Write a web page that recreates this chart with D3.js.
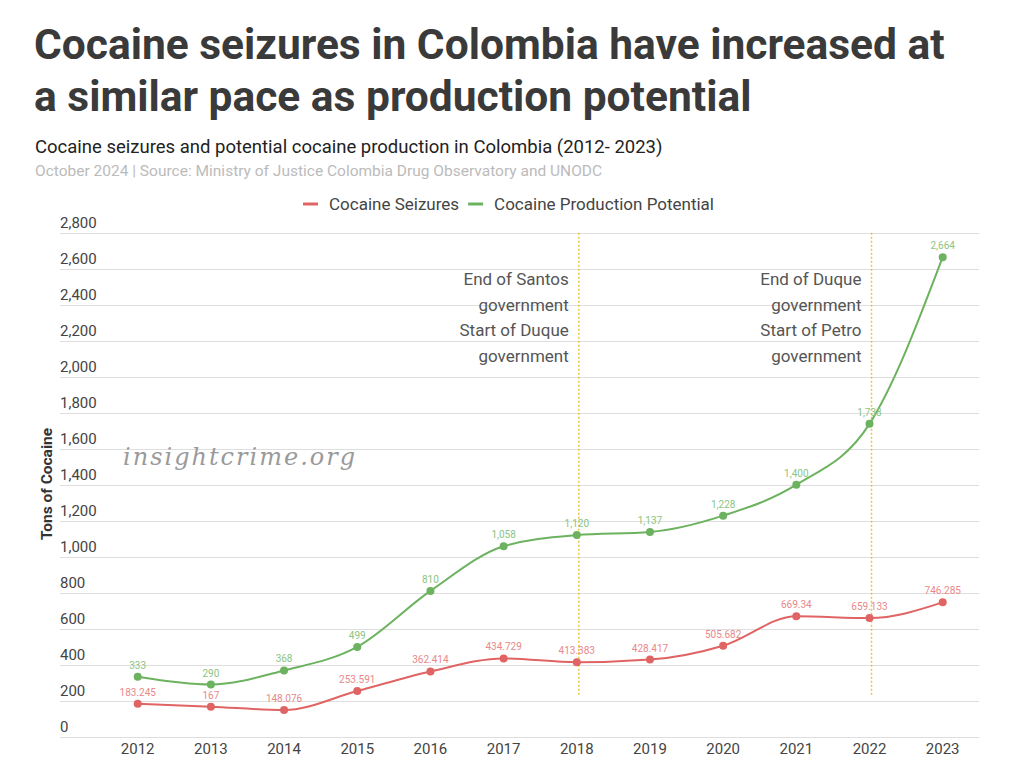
<!DOCTYPE html>
<html>
<head>
<meta charset="utf-8">
<script src="https://cdn.jsdelivr.net/npm/d3@7"></script>
<style>
  body { margin: 0; background: #fff; font-family: Roboto, "Noto Sans", sans-serif; }
  svg text { font-family: Roboto, "Noto Sans", sans-serif; }
  .grid line { stroke: #dedede; stroke-width: 1; }
  .tick-label { fill: #444; font-size: 15px; }
  .val { font-size: 10px; text-anchor: middle; }
  .note { fill: #555; font-size: 17px; text-anchor: end; }
</style>
</head>
<body>
<svg width="1024" height="778"></svg>
<script>
var years = [2012, 2013, 2014, 2015, 2016, 2017, 2018, 2019, 2020, 2021, 2022, 2023];
var seizures = [183.245, 167, 148.076, 253.591, 362.414, 434.729, 413.383, 428.417, 505.682, 669.34, 659.133, 746.285];
var production = [333, 290, 368, 499, 810, 1058, 1120, 1137, 1228, 1400, 1738, 2664];
var yTicks = [0, 200, 400, 600, 800, 1000, 1200, 1400, 1600, 1800, 2000, 2200, 2400, 2600, 2800];

var notes = [
  { year: 2018, lines: ["End of Santos", "government", "Start of Duque", "government"] },
  { year: 2022, lines: ["End of Duque", "government", "Start of Petro", "government"] }
];

var series = [
  { name: "Cocaine Seizures", values: seizures, line: "#e06464", label: "#e8888a", fmt: function(d) { return String(d); } },
  { name: "Cocaine Production Potential", values: production, line: "#6cb25f", label: "#8cc483", fmt: d3.format(",") }
];

var svg = d3.select("svg");

// titles
svg.append("text").attr("x", 34).attr("y", 59)
  .style("font-size", "42.5px").style("font-weight", "bold").style("fill", "#3a3a3a")
  .text("Cocaine seizures in Colombia have increased at");
svg.append("text").attr("x", 34).attr("y", 111)
  .style("font-size", "42.5px").style("font-weight", "bold").style("fill", "#3a3a3a")
  .text("a similar pace as production potential");
svg.append("text").attr("x", 35).attr("y", 153)
  .style("font-size", "18.5px").style("fill", "#222")
  .text("Cocaine seizures and potential cocaine production in Colombia (2012- 2023)");
svg.append("text").attr("x", 35).attr("y", 176)
  .style("font-size", "15.5px").style("fill", "#bbb")
  .text("October 2024 | Source: Ministry of Justice Colombia Drug Observatory and UNODC");

// legend
var legend = svg.append("g").attr("class", "legend");
var lx = 303;
series.forEach(function(s) {
  legend.append("line")
    .attr("x1", lx).attr("x2", lx + 15).attr("y1", 204).attr("y2", 204)
    .attr("stroke", s.line).attr("stroke-width", 3);
  var t = legend.append("text").attr("x", lx + 26).attr("y", 210)
    .style("font-size", "17px").style("fill", "#444").text(s.name);
  lx = lx + 26 + t.node().getComputedTextLength() + 9;
});

// scales
var x = d3.scalePoint().domain(years).range([137.7, 942.7]);
var y = d3.scaleLinear().domain([0, 2800]).range([736.7, 232.7]);
var gridLeft = 60, gridRight = 979;

var grid = svg.append("g").attr("class", "grid");
grid.selectAll("line").data(yTicks).enter().append("line")
  .attr("x1", gridLeft).attr("x2", gridRight)
  .attr("y1", function(d) { return Math.round(y(d)) + 0.5; })
  .attr("y2", function(d) { return Math.round(y(d)) + 0.5; });
grid.selectAll("text").data(yTicks).enter().append("text")
  .attr("class", "tick-label")
  .attr("x", gridLeft).attr("y", function(d) { return y(d) - 5; })
  .text(d3.format(","));

svg.append("g").selectAll("text").data(years).enter().append("text")
  .attr("class", "tick-label")
  .attr("x", function(d) { return x(d); }).attr("y", 754)
  .attr("text-anchor", "middle")
  .text(function(d) { return d; });

// y axis title
svg.append("text")
  .attr("transform", "translate(52,484) rotate(-90)")
  .attr("text-anchor", "middle")
  .style("font-size", "15.5px").style("font-weight", "bold").style("fill", "#333")
  .text("Tons of Cocaine");

// watermark
svg.append("text").attr("x", 123).attr("y", 465)
  .style("font-family", "'DejaVu Serif', serif").style("font-style", "italic")
  .style("font-size", "24px").style("letter-spacing", "2px").style("fill", "#9a9a9a")
  .text("insightcrime.org");

// annotation lines
var ann = svg.append("g").attr("class", "notes");
ann.selectAll("line").data(notes).enter().append("line")
  .attr("x1", function(d) { return x(d.year) + 2; })
  .attr("x2", function(d) { return x(d.year) + 2; })
  .attr("y1", y(2800)).attr("y2", y(232))
  .attr("stroke", "#e9c442").attr("stroke-width", 1.5)
  .attr("stroke-dasharray", "2,2");
notes.forEach(function(n) {
  n.lines.forEach(function(l, i) {
    ann.append("text").attr("class", "note")
      .attr("x", x(n.year) - 8).attr("y", 285 + i * 25.6)
      .text(l);
  });
});

// lines
var line = d3.line()
  .x(function(d, i) { return x(years[i]); })
  .y(function(d) { return y(d); })
  .curve(d3.curveMonotoneX);

series.forEach(function(s) {
  var g = svg.append("g").attr("class", "series");
  g.append("path").datum(s.values)
    .attr("d", line).attr("fill", "none")
    .attr("stroke", s.line).attr("stroke-width", 2);
  g.selectAll("circle").data(s.values).enter().append("circle")
    .attr("cx", function(d, i) { return x(years[i]); })
    .attr("cy", function(d) { return y(d); })
    .attr("r", 4).attr("fill", s.line);
  g.selectAll("text").data(s.values).enter().append("text")
    .attr("class", "val")
    .attr("x", function(d, i) { return x(years[i]); })
    .attr("y", function(d) { return y(d) - 8; })
    .style("fill", s.label)
    .text(s.fmt);
});
</script>
</body>
</html>
